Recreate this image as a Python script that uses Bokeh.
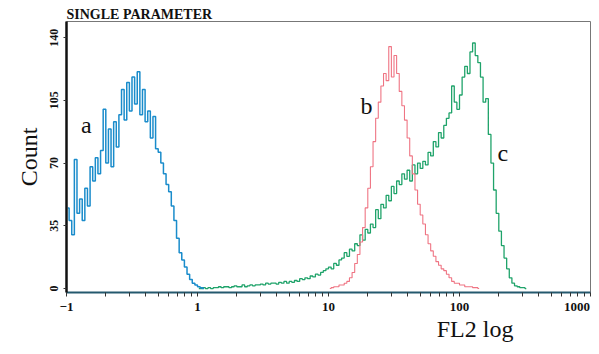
from bokeh.plotting import figure
from bokeh.models import FixedTicker, Label, Range1d, LogAxis
from bokeh.embed import file_html
from bokeh.resources import INLINE

# Histogram channels: 50 channels per decade, first channel at 10^-1
BINS_PER_DECADE = 50
LOG_START = -1

# Curve a (blue)
blue_start = 0
blue_counts = [45, 38, 30, 72, 42, 50, 38, 56, 46, 68,
               60, 73, 64, 77, 100, 70, 89, 68, 93, 79,
               97, 111, 94, 115, 99, 118, 103, 121, 97, 111,
               93, 99, 84, 96, 78, 76, 70, 64, 58, 54,
               46, 38, 28, 20, 16, 12, 8, 5, 3, 2,
               1, 0.5, 0]

# Curve b (red)
red_start = 100
red_counts = [0, 0.5, 1, 1, 2, 2, 3, 4, 6, 9,
              14, 19, 26, 34, 45, 56, 68, 82, 95, 104,
              113, 120, 116, 135, 118, 130, 120, 110, 102, 94,
              84, 74, 64, 55, 47, 41, 36, 30, 25, 21,
              18, 15, 13, 11, 10, 8, 6, 4, 3, 3,
              2, 2, 1, 1, 1, 0.5, 0.5, 0]

# Curve c (green)
green_start = 50
green_counts = [0, 0, 0.5, 0, 0.5, 0, 0.5, 0.5,
                1, 0.5, 1, 1, 0.5, 1, 1.5, 1, 1, 2, 1, 1.5, 2, 1.5, 2, 2,
                2.5, 2, 3, 2.5, 3, 3, 2.5, 3.5, 3, 4,
                3, 4, 3.5, 4.5, 4, 5.5, 5, 6,
                5.5, 7, 6.5, 8, 7.5, 9, 10, 11,
                12, 11, 14, 13, 16, 17,
                20, 18, 22, 21, 25, 24,
                30, 27, 33, 31, 36, 34,
                44, 39, 47, 45, 52, 49,
                57, 53, 60, 58, 64, 61,
                66, 60, 69, 64, 70, 67,
                71, 69, 76, 74, 82, 79,
                87, 84, 91,
                95, 98, 113, 104, 100, 108, 118, 124, 120, 132, 137, 130,
                126, 118, 104, 106, 86,
                70, 55, 42, 32, 24, 17, 11, 6, 3, 1.5, 1, 0.5, 0.5, 0]

# x axis: decades (tick marks) and their labels
x_decades = [0.1, 1, 10, 100, 1000]
x_decade_labels = ["\u22121", "1", "10", "100", "1000"]
x_minor_mantissas = [2, 3, 4, 5, 6, 7, 8, 9]
# the last label sits left of its tick, flush with the right edge
x_label_positions = [0.1, 1, 10, 100, 790]
y_major = [0, 35, 70, 105, 140]

BLUE = "#1a8ccb"
RED = "#ef7483"
GREEN = "#1fa36a"
SERIF = "Liberation Serif"
INK = "#111111"


def channel_values(start, n):
    return [10 ** (LOG_START + (start + k + 0.5) / BINS_PER_DECADE) for k in range(n)]


p = figure(width=591, height=346, x_axis_type="log",
           x_range=Range1d(0.1, 1000), y_range=Range1d(-2.2, 149),
           output_backend="svg", toolbar_location=None,
           title="SINGLE PARAMETER",
           min_border_left=66, min_border_right=1,
           min_border_top=21, min_border_bottom=54)
p.background_fill_color = "white"
p.border_fill_color = "white"
p.grid.visible = False
p.outline_line_color = "#777777"
p.outline_line_width = 1

p.title.text_font = SERIF
p.title.text_font_style = "bold"
p.title.text_font_size = "14px"
p.title.text_color = INK
p.title.align = "left"
p.title.offset = 0
p.title.standoff = 0

p.step(channel_values(green_start, len(green_counts)), green_counts,
       mode="center", line_color=GREEN, line_width=1.3)
p.step(channel_values(red_start, len(red_counts)), red_counts,
       mode="center", line_color=RED, line_width=1.1)
p.step(channel_values(blue_start, len(blue_counts)), blue_counts,
       mode="center", line_color=BLUE, line_width=1.5)

# x axis: all tick marks drawn as equal-length marks, labels placed separately
xa = p.xaxis[0]
xa.ticker = FixedTicker(ticks=x_label_positions,
                        minor_ticks=x_decades + [m * d for d in x_decades[:-1] for m in x_minor_mantissas])
xa.major_label_overrides = {v: s for v, s in zip(x_label_positions, x_decade_labels)}
xa.axis_line_color = "#24596e"
xa.axis_line_width = 2
xa.major_tick_line_color = None
xa.major_tick_in = 0
xa.major_tick_out = 4
xa.minor_tick_line_color = "#333333"
xa.minor_tick_in = 0
xa.minor_tick_out = 4
xa.major_label_standoff = 6
xa.major_label_text_font = SERIF
xa.major_label_text_font_style = "bold"
xa.major_label_text_font_size = "13px"
xa.major_label_text_color = INK

# second row below the axis carrying the axis title
x_title_pos = [131.5]
xt = LogAxis(ticker=FixedTicker(ticks=x_title_pos, minor_ticks=[]),
             major_label_overrides={x_title_pos[0]: "FL2 log"})
xt.axis_line_color = None
xt.major_tick_line_color = None
xt.minor_tick_line_color = None
xt.major_tick_out = 0
xt.major_label_standoff = 2
xt.major_label_text_font = SERIF
xt.major_label_text_font_size = "24px"
xt.major_label_text_color = INK
p.add_layout(xt, "below")

# y axis
ya = p.yaxis[0]
ya.ticker = FixedTicker(ticks=y_major, minor_ticks=[])
ya.axis_line_color = INK
ya.axis_line_width = 2.5
ya.major_tick_line_color = "#333333"
ya.major_tick_in = 0
ya.major_tick_out = 3
ya.major_label_standoff = 5
ya.major_label_orientation = "vertical"
ya.major_label_text_font = SERIF
ya.major_label_text_font_style = "bold"
ya.major_label_text_font_size = "12px"
ya.major_label_text_color = INK
ya.axis_label = "Count"
ya.axis_label_text_font = SERIF
ya.axis_label_text_font_style = "normal"
ya.axis_label_text_font_size = "24px"
ya.axis_label_text_color = INK
ya.axis_label_standoff = 6

for txt, lx, ly in [("a", 0.1416, 91.0), ("b", 19.5, 101.6), ("c", 213.8, 75.9)]:
    p.add_layout(Label(x=lx, y=ly, text=txt, text_font=SERIF, text_font_size="24px",
                       text_align="center", text_baseline="alphabetic", text_color=INK))

open("out.html", "w").write(file_html(p, INLINE))
